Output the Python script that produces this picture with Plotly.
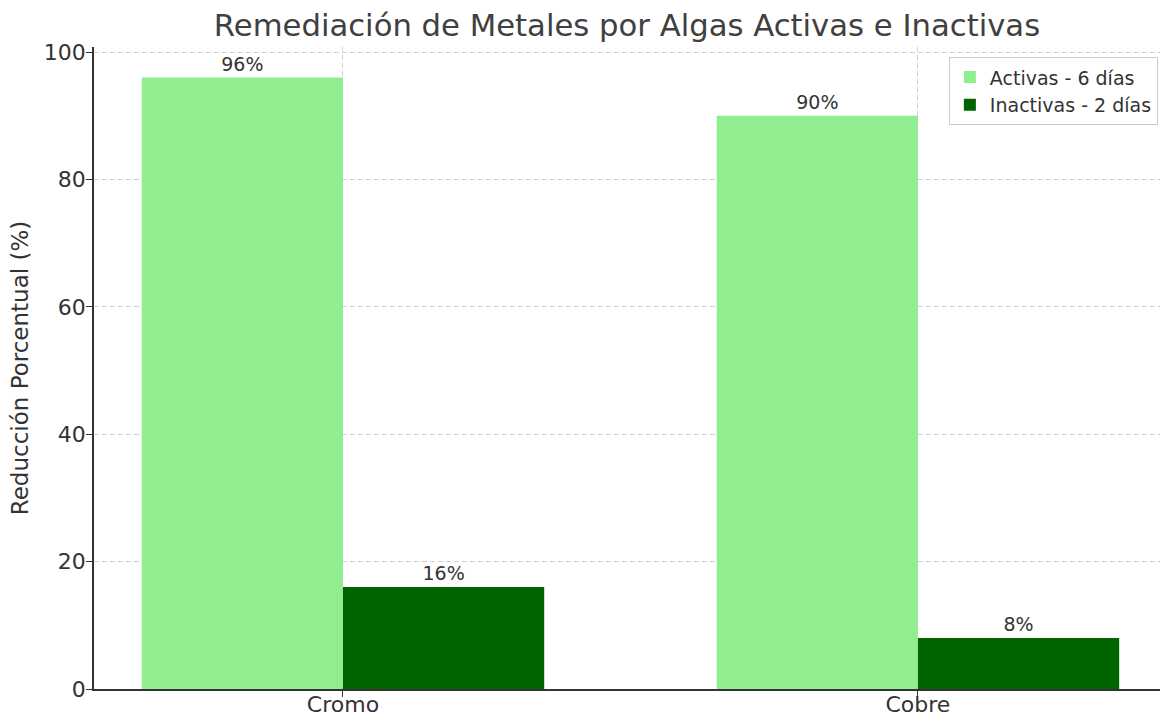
import plotly.graph_objects as go

categories = ["Cromo", "Cobre"]
activas = [96, 90]
inactivas = [16, 8]
series_names = ["Activas - 6 días", "Inactivas - 2 días"]
y_ticks = [0, 20, 40, 60, 80, 100]

txt = "#333333"
fig = go.Figure()
fig.add_trace(go.Bar(x=categories, y=activas, name=series_names[0],
                     marker=dict(color="#90EE90", line=dict(width=0)),
                     text=[f"{v}%" for v in activas], textposition="outside",
                     textfont=dict(size=19, color=txt), cliponaxis=False))
fig.add_trace(go.Bar(x=categories, y=inactivas, name=series_names[1],
                     marker=dict(color="#006400", line=dict(width=0)),
                     text=[f"{v}%" for v in inactivas], textposition="outside",
                     textfont=dict(size=19, color=txt), cliponaxis=False))

fig.update_layout(
    width=1160, height=717,
    paper_bgcolor="white", plot_bgcolor="white",
    font=dict(family="DejaVu Sans", color=txt, size=20),
    barmode="group", bargap=0.3, bargroupgap=0,
    margin=dict(l=94, r=0, t=47, b=28, autoexpand=False),
    title=dict(text="Remediación de Metales por Algas Activas e Inactivas",
               x=0.5, xref="paper", y=0.965, yanchor="middle",
               font=dict(size=30.7, color="#404040")),
    xaxis=dict(range=[-0.433, 1.421], showgrid=True, gridcolor="#d0d0d0",
               griddash="5px,3px", gridwidth=1, showline=True, linecolor="#333333",
               linewidth=1.5, ticks="outside", ticklen=6, tickcolor="#333333",
               tickfont=dict(size=22, color=txt), mirror=False, zeroline=False,
               automargin=False, ticklabelstandoff=-11),
    yaxis=dict(range=[0, 100.8], tickvals=y_ticks, showgrid=True, gridcolor="#d0d0d0",
               griddash="5px,3px", gridwidth=1, showline=True, linecolor="#333333",
               linewidth=1.5, ticks="outside", ticklen=6, tickcolor="#333333",
               tickfont=dict(size=22, color=txt), zeroline=False, automargin=False,
               ticklabelstandoff=-4,
               title=dict(text="Reducción Porcentual (%)", font=dict(size=23, color=txt),
                          standoff=9)),
    legend=dict(x=0.998, xanchor="right", y=0.984, yanchor="top",
                bgcolor="rgba(255,255,255,0.85)", bordercolor="#cccccc", borderwidth=1,
                font=dict(size=19, color=txt), traceorder="normal"),
)

fig.write_html("out.html", config={"displayModeBar": False},
               post_script="document.body.style.margin='0px';document.body.style.overflow='hidden';")
